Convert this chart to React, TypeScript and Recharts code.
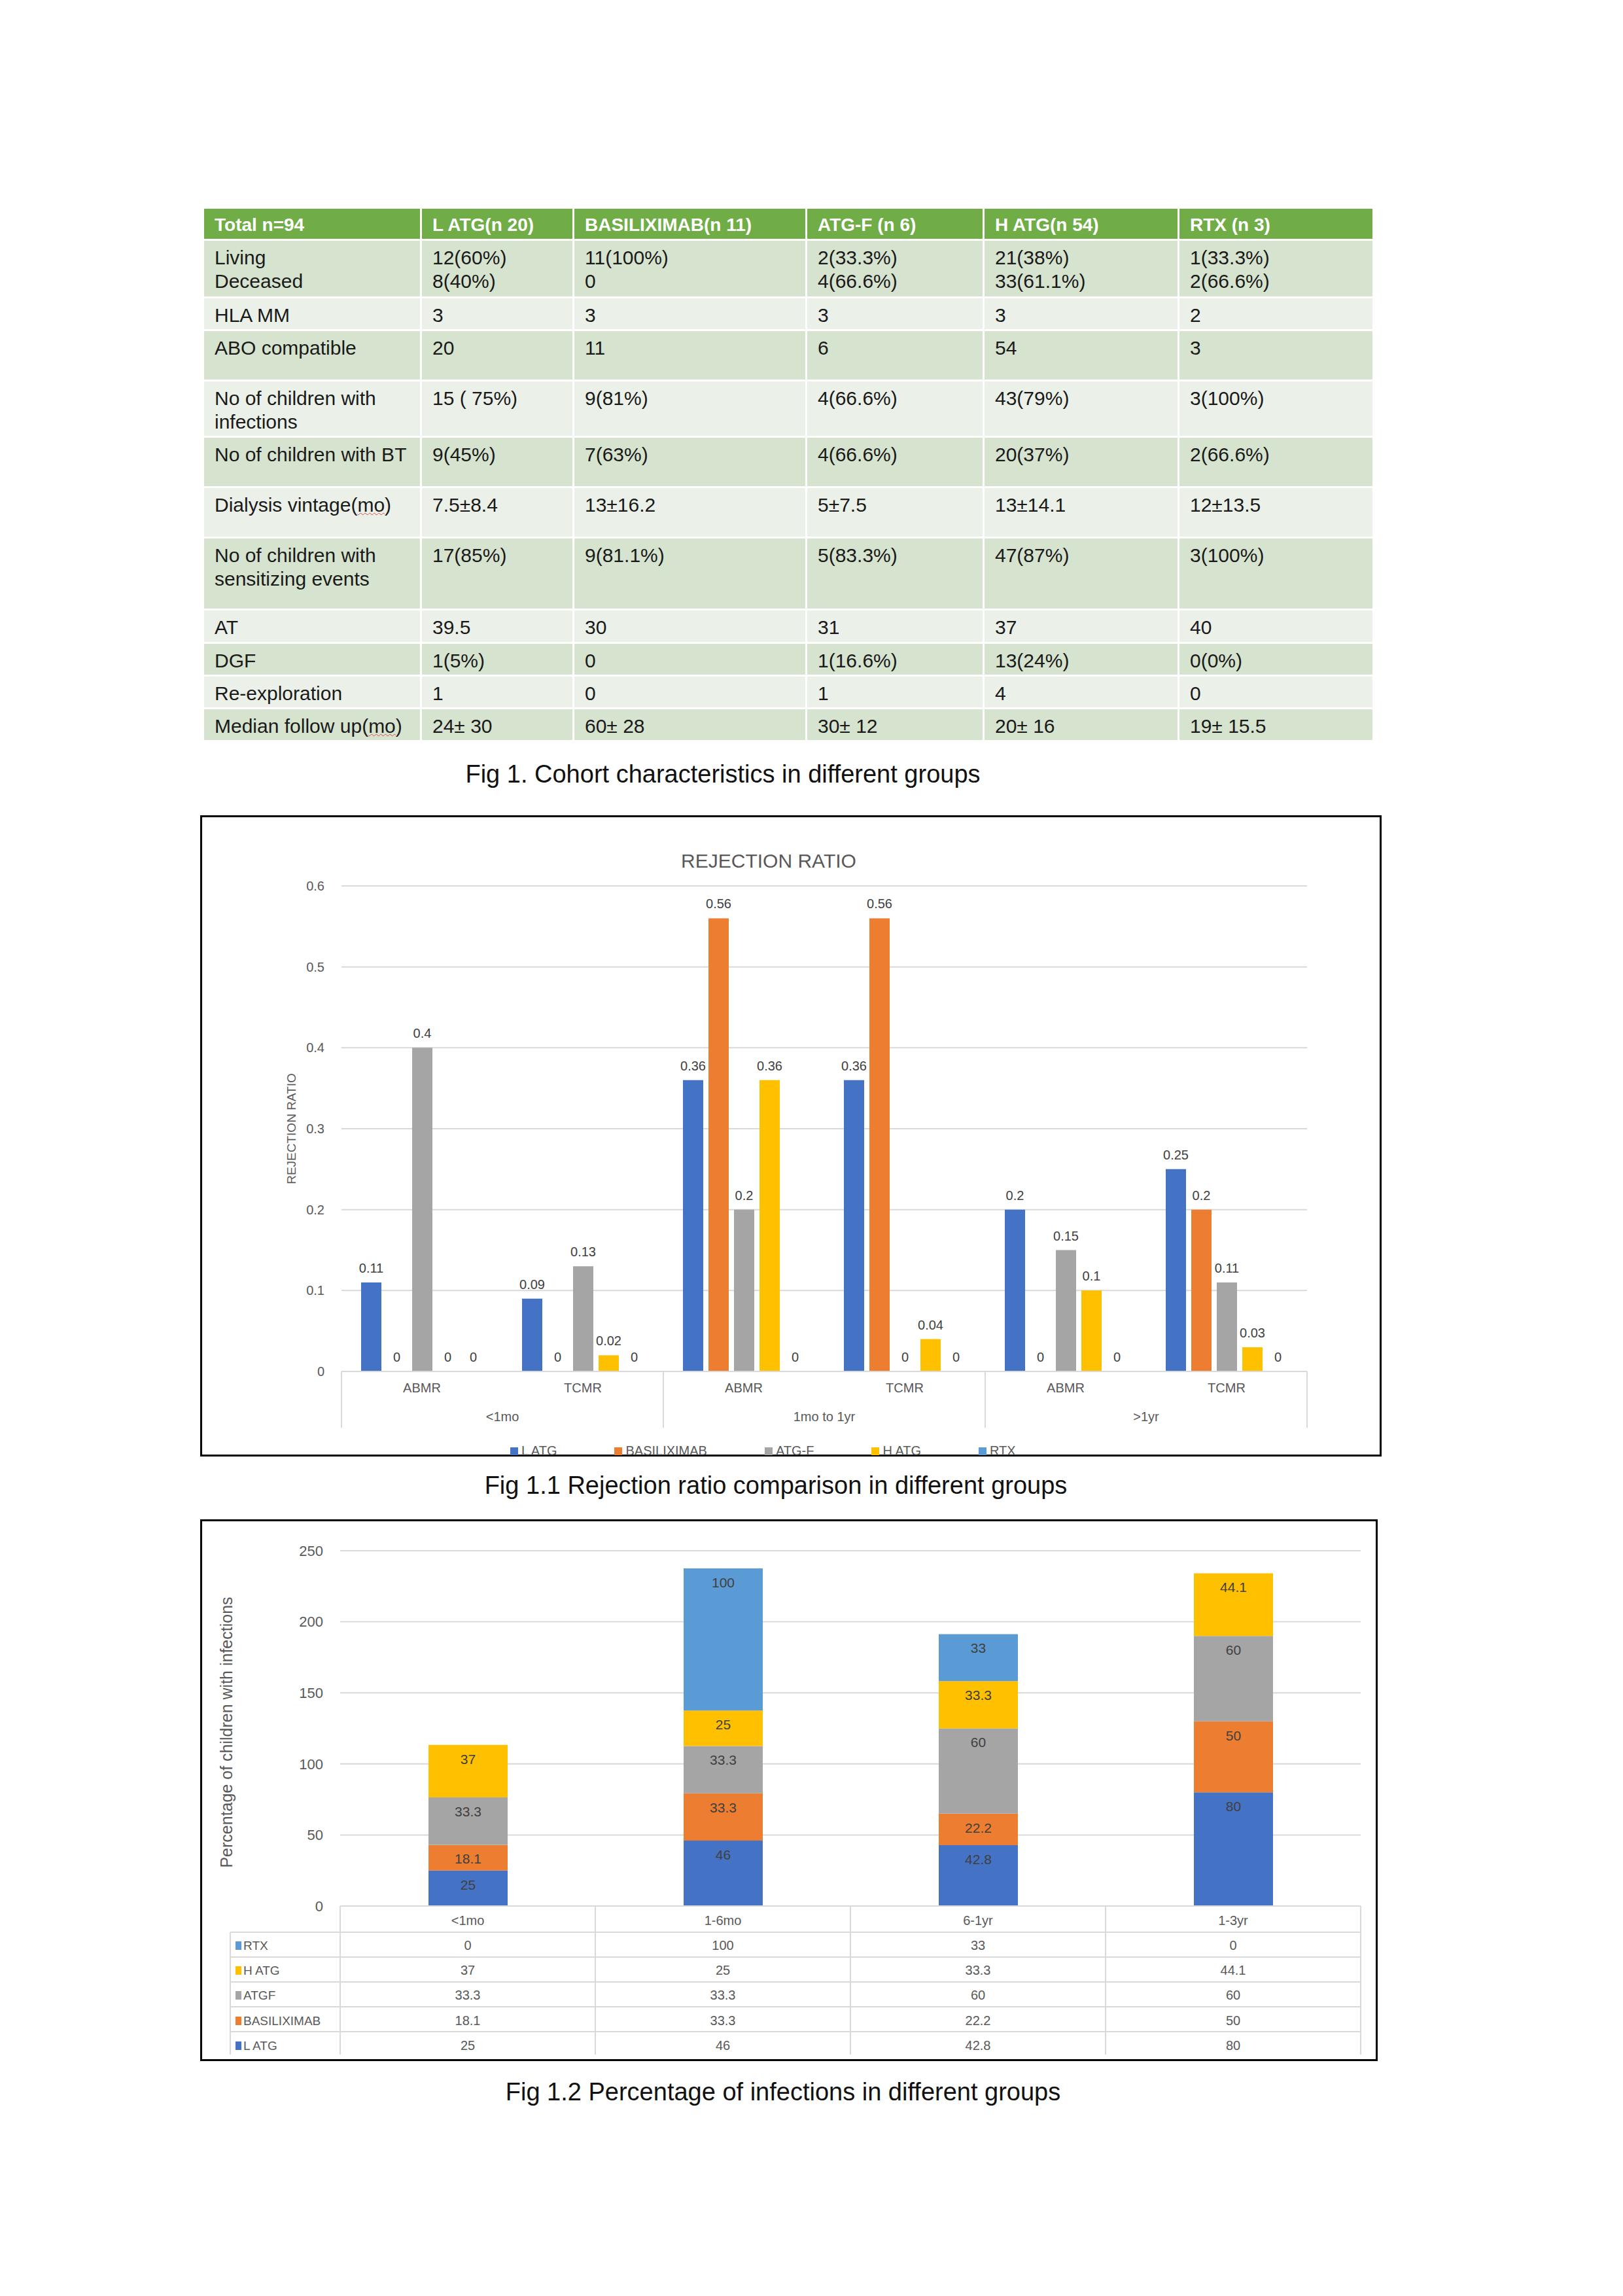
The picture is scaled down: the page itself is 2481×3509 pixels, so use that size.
import React from "react";
import { BarChart, Bar, XAxis, YAxis, CartesianGrid, LabelList, Label } from "recharts";

const FONT = "'Liberation Sans', Arial, sans-serif";
const GRID = "#D9D9D9";
const AXIS_TEXT = "#595959";
const LABEL_TEXT = "#404040";

// ---------- Fig 1 table ----------
const tableHeader = ["Total n=94", "L ATG(n 20)", "BASILIXIMAB(n 11)", "ATG-F (n 6)", "H ATG(n 54)", "RTX (n 3)"];
const rowLabels = [
  "Living\nDeceased",
  "HLA MM",
  "ABO compatible",
  "No of children with\ninfections",
  "No of children with BT",
  "Dialysis vintage(mo)",
  "No of children with\nsensitizing events",
  "AT",
  "DGF",
  "Re-exploration",
  "Median follow up(mo)",
];
const lAtgCol = ["12(60%)\n8(40%)", "3", "20", "15 ( 75%)", "9(45%)", "7.5±8.4", "17(85%)", "39.5", "1(5%)", "1", "24± 30"];
const basilCol = ["11(100%)\n0", "3", "11", "9(81%)", "7(63%)", "13±16.2", "9(81.1%)", "30", "0", "0", "60± 28"];
const atgFCol = ["2(33.3%)\n4(66.6%)", "3", "6", "4(66.6%)", "4(66.6%)", "5±7.5", "5(83.3%)", "31", "1(16.6%)", "1", "30± 12"];
const hAtgCol = ["21(38%)\n33(61.1%)", "3", "54", "43(79%)", "20(37%)", "13±14.1", "47(87%)", "37", "13(24%)", "4", "20± 16"];
const rtxCol = ["1(33.3%)\n2(66.6%)", "2", "3", "3(100%)", "2(66.6%)", "12±13.5", "3(100%)", "40", "0(0%)", "0", "19± 15.5"];

const colEdges = [312, 645, 878, 1234, 1505, 1803, 2101];
const rowEdges = [319, 368, 456, 506, 583, 669, 746, 823, 933, 984, 1034, 1084, 1134];

// ---------- Fig 1.1 rejection ratio ----------
const rejSub = ["ABMR", "TCMR", "ABMR", "TCMR", "ABMR", "TCMR"];
const rejPeriod = ["<1mo", "<1mo", "1mo to 1yr", "1mo to 1yr", ">1yr", ">1yr"];
const rejLAtg = [0.11, 0.09, 0.36, 0.36, 0.2, 0.25];
const rejBasil = [0, 0, 0.56, 0.56, 0, 0.2];
const rejAtgF = [0.4, 0.13, 0.2, 0, 0.15, 0.11];
const rejHAtg = [0, 0.02, 0.36, 0.04, 0.1, 0.03];
const rejRtx = [0, 0, 0, 0, 0, 0];
const rejTicks = [0, 0.1, 0.2, 0.3, 0.4, 0.5, 0.6];

// ---------- Fig 1.2 infections ----------
const infPeriods = ["<1mo", "1-6mo", "6-1yr", "1-3yr"];
const infLAtg = [25, 46, 42.8, 80];
const infBasil = [18.1, 33.3, 22.2, 50];
const infAtgF = [33.3, 33.3, 60, 60];
const infHAtg = [37, 25, 33.3, 44.1];
const infRtx = [0, 100, 33, 0];
const infTicks = [0, 50, 100, 150, 200, 250];

const rejSeries = [
  { key: "lAtg", name: "L ATG", color: "#4472C4" },
  { key: "basil", name: "BASILIXIMAB", color: "#ED7D31" },
  { key: "atgF", name: "ATG-F", color: "#A5A5A5" },
  { key: "hAtg", name: "H ATG", color: "#FFC000" },
  { key: "rtx", name: "RTX", color: "#5B9BD5" },
];
const infSeries = [
  { key: "lAtg", name: "L ATG", color: "#4472C4" },
  { key: "basil", name: "BASILIXIMAB", color: "#ED7D31" },
  { key: "atgF", name: "ATGF", color: "#A5A5A5" },
  { key: "hAtg", name: "H ATG", color: "#FFC000" },
  { key: "rtx", name: "RTX", color: "#5B9BD5" },
];

const rejData = rejSub.map((s, i) => ({
  sub: s,
  period: rejPeriod[i],
  lAtg: rejLAtg[i],
  basil: rejBasil[i],
  atgF: rejAtgF[i],
  hAtg: rejHAtg[i],
  rtx: rejRtx[i],
}));

const infData = infPeriods.map((p, i) => ({
  period: p,
  lAtg: infLAtg[i],
  basil: infBasil[i],
  atgF: infAtgF[i],
  hAtg: infHAtg[i],
  rtx: infRtx[i],
}));

function renderCell(text: string) {
  // "(mo)" gets the spell-check squiggle like the source document
  if (text.endsWith("(mo)")) {
    return (
      <>
        {text.slice(0, -3)}
        <span style={{ textDecoration: "underline wavy #e05050", textDecorationThickness: 1 }}>mo</span>)
      </>
    );
  }
  return text;
}

function CohortTable() {
  const cols = [rowLabels, lAtgCol, basilCol, atgFCol, hAtgCol, rtxCol];
  const cells: React.ReactNode[] = [];
  for (let c = 0; c < 6; c++) {
    const left = colEdges[c];
    const w = colEdges[c + 1] - colEdges[c] - 3;
    cells.push(
      <div
        key={"h" + c}
        style={{
          position: "absolute",
          left,
          top: rowEdges[0],
          width: w,
          height: rowEdges[1] - rowEdges[0] - 3,
          background: "#70AD47",
          color: "#fff",
          fontWeight: "bold",
          fontSize: 28,
          boxSizing: "border-box",
          padding: "7px 0 0 16px",
          whiteSpace: "pre",
        }}
      >
        {tableHeader[c]}
      </div>
    );
    for (let r = 0; r < rowLabels.length; r++) {
      cells.push(
        <div
          key={c + "-" + r}
          style={{
            position: "absolute",
            left,
            top: rowEdges[r + 1],
            width: w,
            height: rowEdges[r + 2] - rowEdges[r + 1] - 3,
            background: r % 2 === 0 ? "#D6E3CF" : "#EBF1E9",
            color: "#1a1a1a",
            boxSizing: "border-box",
            padding: "8px 0 0 16px",
            whiteSpace: "pre",
          }}
        >
          {renderCell(cols[c][r])}
        </div>
      );
    }
  }
  return <div style={{ fontFamily: FONT, fontSize: 30, lineHeight: "36px" }}>{cells}</div>;
}

const RejTick = (props: any) => {
  const { x, y, payload } = props;
  const i = payload.index ?? props.index;
  const half = payload.offset ?? 123;
  return (
    <g>
      <text x={x} y={y + 25} textAnchor="middle" dominantBaseline="central" fontSize={20} fill={AXIS_TEXT}>
        {payload.value}
      </text>
      {i % 2 === 0 && (
        <>
          <line x1={x - half} x2={x - half} y1={y} y2={y + 86} stroke={GRID} strokeWidth={2} />
          <text x={x + half} y={y + 69} textAnchor="middle" dominantBaseline="central" fontSize={20} fill={AXIS_TEXT}>
            {rejPeriod[i]}
          </text>
        </>
      )}
      {i === rejSub.length - 1 && <line x1={x + half} x2={x + half} y1={y} y2={y + 86} stroke={GRID} strokeWidth={2} />}
    </g>
  );
};

const InfTick = (props: any) => {
  const { x, y, payload } = props;
  const i = payload.index ?? props.index;
  const half = payload.offset ?? 195;
  const rows = [...infSeries].reverse();
  const keyW = 168;
  const rowLine = [40, 78, 116, 154, 192];
  const rowMid = [60, 98, 136, 175, 213];
  return (
    <g>
      <text x={x} y={y + 22} textAnchor="middle" dominantBaseline="central" fontSize={20} fill={AXIS_TEXT}>
        {payload.value}
      </text>
      <line x1={x - half} x2={x - half} y1={y} y2={y + 227} stroke={GRID} strokeWidth={2} />
      {i === infPeriods.length - 1 && (
        <line x1={x + half} x2={x + half} y1={y} y2={y + 227} stroke={GRID} strokeWidth={2} />
      )}
      {rowLine.map((dy, r) => (
        <line
          key={"l" + r}
          x1={i === 0 ? x - half - keyW : x - half}
          x2={x + half}
          y1={y + dy}
          y2={y + dy}
          stroke={GRID}
          strokeWidth={2}
        />
      ))}
      {rows.map((s, r) => {
        const src = (infData[i] as any)[s.key];
        return (
          <text key={"v" + r} x={x} y={y + rowMid[r]} textAnchor="middle" dominantBaseline="central" fontSize={20} fill={AXIS_TEXT}>
            {src}
          </text>
        );
      })}
      {i === 0 && (
        <>
          <line x1={x - half - keyW} x2={x - half - keyW} y1={y + 40} y2={y + 227} stroke={GRID} strokeWidth={2} />
          {rows.map((s, r) => (
            <g key={"k" + r}>
              <rect x={x - half - keyW + 8} y={y + rowMid[r] - 6} width={9} height={13} fill={s.color} />
              <text x={x - half - keyW + 20} y={y + rowMid[r]} dominantBaseline="central" fontSize={19} fill={AXIS_TEXT}>
                {s.name}
              </text>
            </g>
          ))}
        </>
      )}
    </g>
  );
};

const hideZero = (v: any) => (v === 0 ? "" : v);

export default function App() {
  return (
    <div style={{ position: "relative", width: 2481, height: 3509, background: "#fff", fontFamily: FONT }}>
      <style>{"body{margin:0}"}</style>

      <CohortTable />
      <div style={{ position: "absolute", left: 0, width: 2210, top: 1162, textAlign: "center", fontSize: 38, color: "#111" }}>
        Fig 1. Cohort characteristics in different groups
      </div>

      {/* Fig 1.1 */}
      <div
        style={{
          position: "absolute",
          left: 306,
          top: 1246,
          width: 1806,
          height: 980,
          border: "3px solid #000",
          boxSizing: "border-box",
        }}
      />
      <div style={{ position: "absolute", left: 306, top: 1246 }}>
        <BarChart
          width={1806}
          height={980}
          data={rejData}
          margin={{ top: 108, right: 114, left: 0, bottom: 0 }}
          barSize={31}
          barGap={8}
        >
          <CartesianGrid vertical={false} stroke={GRID} strokeWidth={2} />
          <XAxis
            dataKey="sub"
            interval={0}
            height={130}
            tickLine={false}
            tickSize={0}
            tickMargin={0}
            axisLine={{ stroke: GRID, strokeWidth: 2 }}
            tick={<RejTick />}
          />
          <YAxis
            domain={[0, 0.6]}
            ticks={rejTicks}
            width={216}
            axisLine={false}
            tickLine={false}
            tickSize={0}
            tickMargin={26}
            tick={{ fontSize: 20, fill: AXIS_TEXT }}
          >
            <Label
              content={(p: any) => {
                const vb = p.viewBox;
                const cx = vb.x + 139;
                const cy = vb.y + vb.height / 2;
                return (
                  <text
                    x={cx}
                    y={cy}
                    transform={`rotate(-90 ${cx} ${cy})`}
                    textAnchor="middle"
                    dominantBaseline="central"
                    fontSize={19}
                    fill={AXIS_TEXT}
                  >
                    REJECTION RATIO
                  </text>
                );
              }}
            />
          </YAxis>
          {rejSeries.map((s) => (
            <Bar
              key={s.key}
              dataKey={s.key}
              name={s.name}
              fill={s.color}
              minPointSize={0.01}
              isAnimationActive={false}
            >
              <LabelList dataKey={s.key} position="top" offset={15} fontSize={20} fill={LABEL_TEXT} />
            </Bar>
          ))}
        </BarChart>
      </div>
      <div
        style={{
          position: "absolute",
          left: 0,
          width: 2350,
          top: 1299,
          textAlign: "center",
          fontSize: 30,
          color: AXIS_TEXT,
        }}
      >
        REJECTION RATIO
      </div>
      <div style={{ position: "absolute", left: 780, top: 2206, display: "flex", fontSize: 20, color: AXIS_TEXT }}>
        {rejSeries.map((s) => (
          <div key={s.key} style={{ display: "flex", alignItems: "center", marginRight: 88 }}>
            <span style={{ display: "inline-block", width: 12, height: 12, background: s.color, marginRight: 5 }} />
            {s.name}
          </div>
        ))}
      </div>
      <div style={{ position: "absolute", left: 0, width: 2372, top: 2249, textAlign: "center", fontSize: 38, color: "#111" }}>
        Fig 1.1 Rejection ratio comparison in different groups
      </div>

      {/* Fig 1.2 */}
      <div
        style={{
          position: "absolute",
          left: 306,
          top: 2322,
          width: 1800,
          height: 828,
          border: "3px solid #000",
          boxSizing: "border-box",
        }}
      />
      <div style={{ position: "absolute", left: 306, top: 2322 }}>
        <BarChart
          width={1800}
          height={828}
          data={infData}
          margin={{ top: 48, right: 26, left: 0, bottom: 0 }}
          barSize={121}
        >
          <CartesianGrid vertical={false} stroke={GRID} strokeWidth={2} />
          <XAxis
            dataKey="period"
            interval={0}
            height={237}
            tickLine={false}
            tickSize={0}
            tickMargin={0}
            axisLine={{ stroke: GRID, strokeWidth: 2 }}
            tick={<InfTick />}
          />
          <YAxis
            domain={[0, 250]}
            ticks={infTicks}
            width={214}
            axisLine={false}
            tickLine={false}
            tickSize={0}
            tickMargin={26}
            tick={{ fontSize: 22, fill: AXIS_TEXT }}
          >
            <Label
              content={(p: any) => {
                const vb = p.viewBox;
                const cx = vb.x + 40;
                const cy = vb.y + vb.height / 2 + 6;
                return (
                  <text
                    x={cx}
                    y={cy}
                    transform={`rotate(-90 ${cx} ${cy})`}
                    textAnchor="middle"
                    dominantBaseline="central"
                    fontSize={25}
                    fill={AXIS_TEXT}
                  >
                    Percentage of children with infections
                  </text>
                );
              }}
            />
          </YAxis>
          {infSeries.map((s) => (
            <Bar key={s.key} dataKey={s.key} name={s.name} stackId="inf" fill={s.color} isAnimationActive={false}>
              <LabelList
                dataKey={s.key}
                position="insideTop"
                offset={14}
                fontSize={21}
                fill={LABEL_TEXT}
                formatter={hideZero}
              />
            </Bar>
          ))}
        </BarChart>
      </div>
      <div style={{ position: "absolute", left: 0, width: 2394, top: 3176, textAlign: "center", fontSize: 38, color: "#111" }}>
        Fig 1.2 Percentage of infections in different groups
      </div>
    </div>
  );
}
